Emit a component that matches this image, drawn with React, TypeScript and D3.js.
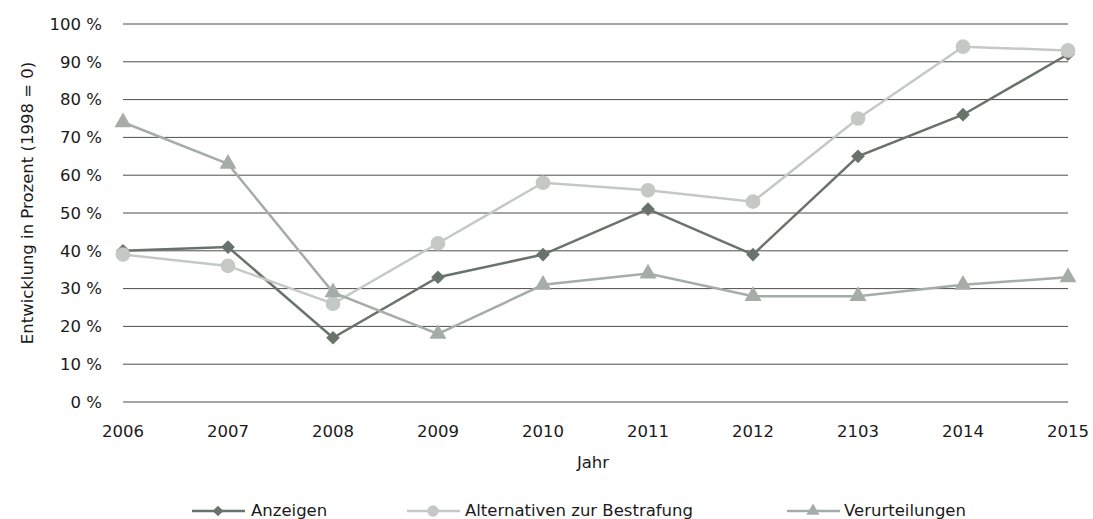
import React from "react";
import * as d3 from "d3";

const years = ["2006", "2007", "2008", "2009", "2010", "2011", "2012", "2103", "2014", "2015"];
const anzeigen = [40, 41, 17, 33, 39, 51, 39, 65, 76, 92];
const alternativen = [39, 36, 26, 42, 58, 56, 53, 75, 94, 93];
const verurteilungen = [74, 63, 29, 18, 31, 34, 28, 28, 31, 33];
const yTicks = [0, 10, 20, 30, 40, 50, 60, 70, 80, 90, 100];

type Series = { name: string; values: number[]; color: string; symbol: d3.SymbolType; size: number; legendX: number; textX: number };

const series: Series[] = [
  { name: "Anzeigen", values: anzeigen, color: "#69736c", symbol: d3.symbolDiamond2, size: 120, legendX: 192, textX: 251 },
  { name: "Alternativen zur Bestrafung", values: alternativen, color: "#c4c9c6", symbol: d3.symbolCircle, size: 170, legendX: 407, textX: 465 },
  { name: "Verurteilungen", values: verurteilungen, color: "#a6aca8", symbol: d3.symbolTriangle, size: 125, legendX: 787, textX: 844 },
];

const W = 1093;
const H = 519;
const FONT = "'DejaVu Sans', sans-serif";
const FS = 16.5;

export default function App() {
  const x = d3.scalePoint<string>().domain(years).range([123, 1068]);
  const y = d3.scaleLinear().domain([0, 100]).range([402, 24]);
  const line = d3.line<number>().x((_, i) => x(years[i])!).y((v) => y(v));

  return (
    <svg width={W} height={H} style={{ position: "absolute", left: 0, top: 0, background: "#fff" }} fontFamily={FONT}>
      {/* gridlines and y tick labels */}
      {yTicks.map((t) => (
        <g key={t}>
          <line x1={123} x2={1068} y1={y(t)} y2={y(t)} stroke="#4d4d4d" strokeWidth={1} />
          <text x={102} y={y(t)} dy="0.35em" textAnchor="end" fontSize={FS} fill="#1a1a1a">
            {`${t} %`}
          </text>
        </g>
      ))}
      {/* x tick labels */}
      {years.map((yr) => (
        <text key={yr} x={x(yr)} y={437} textAnchor="middle" fontSize={FS} fill="#1a1a1a">
          {yr}
        </text>
      ))}
      <text x={593} y={468} textAnchor="middle" fontSize={FS} fill="#1a1a1a">
        Jahr
      </text>
      <text transform="translate(33,203) rotate(-90)" textAnchor="middle" fontSize={FS} fill="#1a1a1a">
        Entwicklung in Prozent (1998 = 0)
      </text>
      {/* series */}
      {series.map((s) => (
        <g key={s.name}>
          <path d={line(s.values)!} fill="none" stroke={s.color} strokeWidth={2.5} />
          {s.values.map((v, i) => (
            <path
              key={i}
              d={d3.symbol().type(s.symbol).size(s.size)()!}
              transform={`translate(${x(years[i])},${y(v)})`}
              fill={s.color}
            />
          ))}
        </g>
      ))}
      {/* legend */}
      {series.map((s) => (
        <g key={"lg" + s.name}>
          <line x1={s.legendX} x2={s.legendX + 53} y1={511} y2={511} stroke={s.color} strokeWidth={2.5} />
          <path
            d={d3.symbol().type(s.symbol).size(s.size * 0.6)()!}
            transform={`translate(${s.legendX + 26},511)`}
            fill={s.color}
          />
          <text x={s.textX} y={516} fontSize={FS} fill="#1a1a1a">
            {s.name}
          </text>
        </g>
      ))}
    </svg>
  );
}
